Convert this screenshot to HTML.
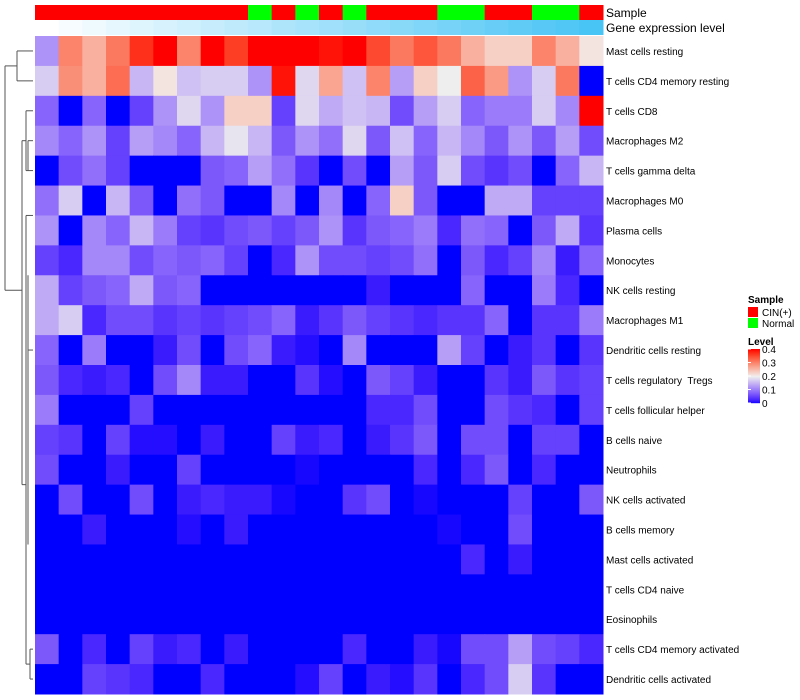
<!DOCTYPE html>
<html><head><meta charset="utf-8"><style>
body{margin:0;background:#fff;}
svg{display:block;font-family:"Liberation Sans",sans-serif;}
text{white-space:pre;}
</style></head><body>
<svg id="chart" width="800" height="700"></svg>
<script>
const rowNames=["Mast cells resting","T cells CD4 memory resting","T cells CD8","Macrophages M2","T cells gamma delta","Macrophages M0","Plasma cells","Monocytes","NK cells resting","Macrophages M1","Dendritic cells resting","T cells regulatory  Tregs","T cells follicular helper","B cells naive","Neutrophils","NK cells activated","B cells memory","Mast cells activated","T cells CD4 naive","Eosinophils","T cells CD4 memory activated","Dendritic cells activated"];
const sampleGroups=["CIN","CIN","CIN","CIN","CIN","CIN","CIN","CIN","CIN","N","CIN","N","CIN","N","CIN","CIN","CIN","N","N","CIN","CIN","N","N","CIN"];
const geneLevels=[0,0.04,0.08,0.12,0.16,0.2,0.24,0.28,0.32,0.36,0.4,0.44,0.48,0.52,0.56,0.6,0.64,0.68,0.72,0.76,0.8,0.84,0.88,0.92];
const values=[
[0.12,0.3,0.26,0.31,0.37,0.4,0.3,0.4,0.36,0.4,0.4,0.4,0.39,0.4,0.35,0.31,0.34,0.31,0.26,0.23,0.23,0.3,0.26,0.21],
[0.17,0.29,0.26,0.32,0.15,0.21,0.16,0.17,0.17,0.12,0.39,0.18,0.27,0.16,0.3,0.13,0.23,0.2,0.33,0.28,0.12,0.17,0.31,0.0],
[0.08,0,0.08,0,0.05,0.12,0.18,0.12,0.23,0.23,0.05,0.18,0.14,0.16,0.15,0.06,0.13,0.17,0.08,0.1,0.1,0.17,0.11,0.4],
[0.11,0.08,0.12,0.05,0.13,0.11,0.08,0.15,0.19,0.15,0.07,0.12,0.09,0.18,0.07,0.16,0.08,0.15,0.11,0.07,0.12,0.07,0.13,0.06],
[0,0.06,0.09,0.05,0,0,0,0.07,0.08,0.13,0.09,0.04,0,0.06,0,0.13,0.07,0.17,0.06,0.04,0.06,0,0.08,0.15],
[0.09,0.17,0,0.15,0.07,0,0.09,0.07,0,0,0.11,0,0.11,0,0.08,0.23,0.07,0,0,0.14,0.14,0.05,0.05,0.05],
[0.12,0,0.11,0.08,0.15,0.1,0.05,0.04,0.06,0.07,0.05,0.07,0.12,0.04,0.07,0.08,0.1,0.03,0.09,0.08,0,0.07,0.14,0.04],
[0.05,0.03,0.11,0.11,0.06,0.08,0.07,0.08,0.05,0,0.03,0.12,0.06,0.06,0.05,0.06,0.09,0,0.07,0.03,0.05,0.11,0.02,0.08],
[0.14,0.05,0.07,0.08,0.14,0.07,0.08,0,0,0,0,0,0,0,0.02,0,0,0,0.08,0,0,0.1,0.03,0],
[0.14,0.17,0.03,0.06,0.06,0.04,0.05,0.04,0.05,0.06,0.08,0.02,0.04,0.07,0.05,0.04,0.03,0.04,0.04,0.08,0,0.04,0.04,0.1],
[0.08,0,0.1,0,0,0.02,0.06,0,0.06,0.08,0.02,0.01,0,0.11,0,0,0,0.13,0.05,0,0.02,0.04,0,0.04],
[0.07,0.03,0.02,0.03,0,0.06,0.11,0.02,0.02,0,0,0.04,0.01,0,0.07,0.05,0.02,0,0,0.04,0.02,0.07,0.04,0.05],
[0.1,0,0,0,0.05,0,0,0,0,0,0,0,0,0,0.03,0.03,0.06,0,0,0.06,0.04,0.03,0,0.05],
[0.05,0.04,0,0.05,0.01,0.01,0,0.02,0,0,0.05,0.02,0.03,0,0.02,0.04,0.07,0,0.06,0.06,0,0.05,0.05,0],
[0.06,0,0,0.02,0,0,0.05,0,0,0,0,0.005,0,0,0,0,0.03,0,0.03,0.07,0,0.03,0,0],
[0,0.06,0,0,0.06,0,0.02,0.03,0.02,0.02,0.005,0,0,0.04,0.06,0,0.005,0,0,0,0.05,0,0,0.07],
[0,0,0.02,0,0,0,0.01,0,0.02,0,0,0,0,0,0,0,0,0.005,0,0,0.06,0,0,0],
[0,0,0,0,0,0,0,0,0,0,0,0,0,0,0,0,0,0,0.03,0,0.02,0,0,0],
[0,0,0,0,0,0,0,0,0,0,0,0,0,0,0,0,0,0,0,0,0,0,0,0],
[0,0,0,0,0,0,0,0,0,0,0,0,0,0,0,0,0,0,0,0,0,0,0,0],
[0.07,0,0.03,0,0.05,0.02,0.03,0,0.02,0,0,0,0,0.03,0,0,0.02,0.005,0.06,0.06,0.13,0.06,0.05,0.03],
[0,0,0.05,0.04,0.03,0,0,0.03,0,0,0,0.01,0.05,0,0.02,0.01,0.04,0,0.03,0.06,0.17,0.04,0,0]
];
const legendTicks=[0,0.1,0.2,0.3,0.4];

const NS="http://www.w3.org/2000/svg";
const svg=document.getElementById('chart');
const X0=35,X1=603,Y0=36,Y1=694;
const nC=values[0].length,nR=values.length;
const cw=(X1-X0)/nC,rh=(Y1-Y0)/nR;
const xS=i=>X0+i*cw, yS=j=>Y0+j*rh;
function mk(t,a){const e=document.createElementNS(NS,t);for(const k in a)e.setAttribute(k,a[k]);svg.appendChild(e);return e;}
function lerp(a,b,t){return a.map((v,i)=>Math.round(v+(b[i]-v)*t));}
function col(v){const m=0.2;
 if(v<=m){const t=Math.max(0,v/m);
  const r=Math.round(238*Math.pow(t,0.62)), g=Math.round(238*Math.pow(t,0.95)), b=Math.round(255-17*Math.pow(t,1.5));
  return `rgb(${r},${g},${b})`;}
 const t=Math.min(1,(v-m)/m);
 const r=Math.round(238+17*Math.pow(t,0.4)), g=Math.round(238*Math.pow(1-t,0.85)), b=Math.round(238*Math.pow(1-t,1.15));
 return `rgb(${r},${g},${b})`;}

sampleGroups.forEach((g,i)=>{
 const r=mk('rect',{x:xS(i),y:5,width:cw+0.5,height:15,fill:g==="CIN"?"#FF0000":"#00FF00"});
 
 
});
geneLevels.forEach((g,i)=>{
 const c=lerp([255,255,255],[72,196,245],g/0.92);
 const r=mk('rect',{x:xS(i),y:20,width:cw+0.5,height:15,fill:`rgb(${c})`});
 
 
});
let t=mk('text',{x:606,y:17,'font-size':12,fill:'#000'});t.textContent='Sample';

t=mk('text',{x:606,y:32,'font-size':12,fill:'#000'});t.textContent='Gene expression level';


values.forEach((row,j)=>{
 row.forEach((v,i)=>{
  const r=mk('rect',{x:xS(i),y:yS(j),width:cw+0.5,height:rh+0.5,fill:col(v)});
  
  
 });
 const l=mk('text',{x:606,y:yS(j)+rh/2+4,'font-size':10,fill:'#000'});
 l.textContent=rowNames[j];
 
 
});

const dg=[[17,yS(0.5),17,yS(1.5)],[17,yS(0.5),33,yS(0.5)],[17,yS(1.5),33,yS(1.5)],
[5,yS(1),17,yS(1)],[5,yS(1),5,yS(8.5)],[5,yS(8.5),22,yS(8.5)],
[22,yS(3.5),22,yS(15)],[22,yS(3.5),26,yS(3.5)],[26,yS(2.5),26,yS(4.5)],[26,yS(2.5),33,yS(2.5)],[26,yS(4.5),28,yS(4.5)],
[28,yS(3.5),28,yS(4.5)],[28,yS(3.5),33,yS(3.5)],[28,yS(4.5),33,yS(4.5)],
[22,yS(15),26,yS(15)],[26,yS(6),26,yS(21)],[26,yS(6),33,yS(6)],[26,yS(21),30,yS(21)],[30,yS(20.5),30,yS(21.5)],
[30,yS(20.5),33,yS(20.5)],[30,yS(21.5),33,yS(21.5)],[28,yS(8),28,yS(17)],[28,yS(10.5),33,yS(10.5)]];
dg.forEach(d=>{const e=mk('line',{x1:d[0],y1:d[1],x2:d[2],y2:d[3],stroke:'#555','stroke-width':1});
 });

t=mk('text',{x:748,y:303,'font-size':10,'font-weight':'bold'});t.textContent='Sample';

[["CIN(+)","#FF0000",307],["Normal","#00FF00",318]].forEach(s=>{
 const r=mk('rect',{x:748,y:s[2],width:10,height:10,fill:s[1]});
 
 const tx=mk('text',{x:762,y:s[2]+9,'font-size':10});tx.textContent=s[0];
 
});
t=mk('text',{x:748,y:345,'font-size':10,'font-weight':'bold'});t.textContent='Level';

const lgT=349,lgB=403;
for(let k=0;k<54;k++){const v=0.4*(1-k/54);const r=mk('rect',{x:748,y:lgT+k,width:12,height:1.2,fill:col(v)});
 }
legendTicks.forEach(v=>{const y=lgB-(v/0.4)*(lgB-lgT);
 const tx=mk('text',{x:762,y:y+4,'font-size':10});tx.textContent=v;
 
 const ln=mk('line',{x1:748,y1:y,x2:751,y2:y,stroke:'#fff'});
 
});
</script>
</body></html>
